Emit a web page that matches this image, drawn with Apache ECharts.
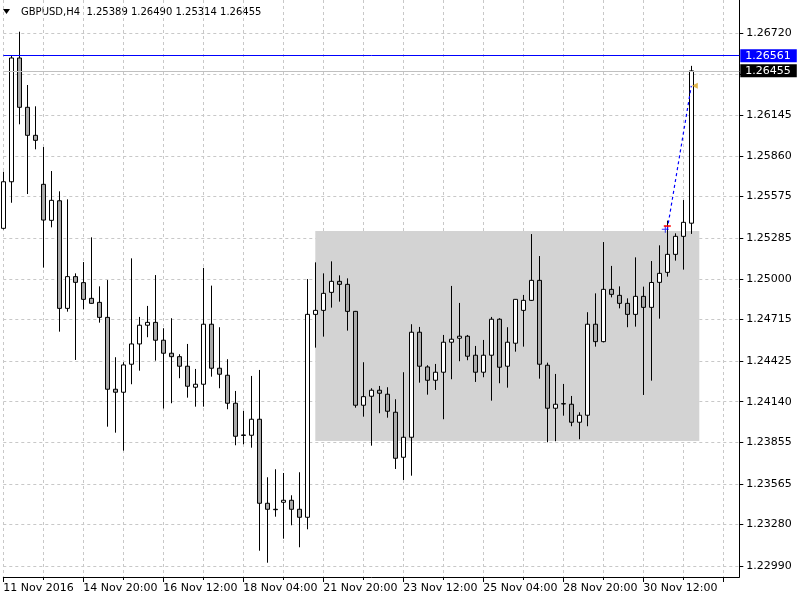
<!DOCTYPE html>
<html><head><meta charset="utf-8">
<script src="https://cdn.jsdelivr.net/npm/echarts@6/dist/echarts.min.js"></script>
<style>html,body{margin:0;padding:0;background:#fff}#c{width:800px;height:600px}</style>
</head><body><div id="c"></div>
<script>
const symbolName = 'GBPUSD,H4';
const opens = [1.25353,1.25679,1.26545,1.26200,1.26004,1.25661,1.25409,1.25546,1.24793,1.25015,
1.24973,1.24863,1.24835,1.24730,1.24227,1.24206,1.24402,1.24544,1.24675,1.24695,
1.24570,1.24479,1.24455,1.24388,1.24241,1.24262,1.24682,1.24374,1.24325,1.24129,
1.23907,1.23905,1.24017,1.23429,1.23387,1.23436,1.23450,1.23387,1.23331,1.24751,
1.24779,1.24905,1.24982,1.24961,1.24772,1.24115,1.24178,1.24220,1.24192,1.24066,
1.23751,1.23891,1.24626,1.24383,1.24290,1.24346,1.24556,1.24584,1.24598,1.24465,
1.24346,1.24465,1.24717,1.24388,1.24549,1.24779,1.24849,1.24989,1.24395,1.24094,
1.24126,1.24122,1.23996,1.24045,1.24682,1.24560,1.24926,1.24884,1.24828,1.24751,
1.24877,1.24800,1.24975,1.25045,1.25171,1.25297,1.25389];
const highs = [1.25749,1.26561,1.26729,1.26356,1.26207,1.25922,1.25754,1.25612,1.25556,1.25038,
1.25117,1.25290,1.24947,1.24991,1.24451,1.24416,1.25143,1.24733,1.24810,1.25026,
1.24654,1.24724,1.24472,1.24544,1.24369,1.25076,1.24952,1.24661,1.24437,1.24215,
1.24075,1.24320,1.24362,1.23611,1.23667,1.23641,1.23485,1.23646,1.24998,1.25115,
1.25038,1.25122,1.25024,1.25003,1.24775,1.24416,1.24234,1.24250,1.24241,1.24157,
1.24346,1.24682,1.24663,1.24395,1.24404,1.24607,1.24950,1.24831,1.24607,1.24530,
1.24572,1.24733,1.24724,1.24661,1.24858,1.24887,1.25313,1.25159,1.24413,1.24334,
1.24264,1.24180,1.24066,1.24766,1.24898,1.25257,1.25090,1.24947,1.24863,1.25150,
1.24945,1.25124,1.25234,1.25407,1.25318,1.25551,1.26490];
const lows = [1.25345,1.25532,1.26081,1.25593,1.25906,1.25078,1.25360,1.24630,1.24770,1.24432,
1.24786,1.24824,1.24693,1.23965,1.23923,1.23797,1.24262,1.24357,1.24591,1.24427,
1.24092,1.24129,1.24304,1.24168,1.24105,1.24105,1.24315,1.24234,1.24087,1.23835,
1.23842,1.23818,1.23097,1.23013,1.23335,1.23181,1.23275,1.23121,1.23247,1.24518,
1.24595,1.24798,1.24840,1.24637,1.24098,1.24035,1.23832,1.24059,1.24028,1.23669,
1.23592,1.23622,1.24273,1.24189,1.24222,1.24017,1.24297,1.24423,1.24430,1.24278,
1.24311,1.24147,1.24269,1.24238,1.24490,1.24525,1.24845,1.24301,1.23856,1.23863,
1.24042,1.23968,1.23877,1.23968,1.24525,1.24555,1.24870,1.24793,1.24661,1.24665,
1.24187,1.24287,1.24721,1.25015,1.25127,1.25064,1.25314];
const closes = [1.25679,1.26545,1.26200,1.26004,1.25969,1.25411,1.25549,1.24793,1.25015,1.24975,
1.24856,1.24828,1.24730,1.24227,1.24206,1.24397,1.24544,1.24675,1.24695,1.24570,
1.24479,1.24455,1.24388,1.24248,1.24262,1.24682,1.24374,1.24332,1.24129,1.23898,
1.23904,1.24017,1.23429,1.23387,1.23384,1.23450,1.23387,1.23331,1.24751,1.24779,
1.24898,1.24982,1.24961,1.24772,1.24115,1.24175,1.24220,1.24199,1.24073,1.23744,
1.23891,1.24626,1.24388,1.24290,1.24346,1.24556,1.24577,1.24598,1.24458,1.24346,
1.24465,1.24717,1.24381,1.24556,1.24856,1.24849,1.24989,1.24402,1.24094,1.24122,
1.24124,1.23996,1.24045,1.24682,1.24560,1.24926,1.24891,1.24828,1.24751,1.24877,
1.24800,1.24974,1.25038,1.25171,1.25297,1.25395,1.26455];
const xTickLabels = ['11 Nov 2016','14 Nov 20:00','16 Nov 12:00','18 Nov 04:00','21 Nov 20:00','23 Nov 12:00','25 Nov 04:00','28 Nov 20:00','30 Nov 12:00'];
const yTickValues = [1.26720,1.26430,1.26145,1.25860,1.25575,1.25285,1.25000,1.24715,1.24425,1.24140,1.23855,1.23565,1.23280,1.22990];
const yLabelValues = [1.26720,1.26145,1.25860,1.25575,1.25285,1.25000,1.24715,1.24425,1.24140,1.23855,1.23565,1.23280,1.22990];
const rectTop = 1.25334, rectBottom = 1.23865, rectFrom = 39, rectTo = 87;
const blueLinePrice = 1.26561, bidPrice = 1.26455;
const tradeOpen = [83, 1.25346], tradeClose = [86, 1.26350], stopMark = [83, 1.25369];
const totalSlots = 93;

const monthNames = ['Jan','Feb','Mar','Apr','May','Jun','Jul','Aug','Sep','Oct','Nov','Dec'];
const categories = [];
let t = Date.UTC(2016, 10, 11, 4);
while (categories.length < totalSlots) {
  const d = new Date(t);
  const wd = d.getUTCDay();
  if (wd !== 0 && wd !== 6) {
    categories.push(d.getUTCDate() + ' ' + monthNames[d.getUTCMonth()] + ' ' + String(d.getUTCHours()).padStart(2,'0') + ':00');
  }
  t += 4 * 3600e3;
}
const candles = opens.map((o, i) => [o, closes[i], lows[i], highs[i]]);
const last = opens.length - 1;
const titleText = symbolName + '  ' + [opens[last], highs[last], lows[last], closes[last]].map(v => v.toFixed(5)).join(' ');

const FONT = 'DejaVu Sans';
const gridColor = '#c8c8c8';
const priceLabel = (bg) => ({ position: 'end', distance: 1, formatter: p => Number(p.value).toFixed(5), color: '#fff',
  backgroundColor: bg, padding: [1, 6, 1, 5], fontSize: 11, fontFamily: FONT });
const chart = echarts.init(document.getElementById('c'));
chart.setOption({
  animation: false,
  backgroundColor: '#ffffff',
  grid: { left: 3.3, right: 60.7, top: 0, bottom: 23 },
  xAxis: [{
    type: 'category', data: categories, boundaryGap: false, position: 'bottom',
    axisLine: { show: true, lineStyle: { color: '#000', width: 1 } },
    axisTick: { show: true, interval: 9, length: 5, lineStyle: { color: '#000' } },
    axisLabel: { interval: 9, align: 'left', margin: 6, color: '#000', fontSize: 11, fontFamily: FONT,
      formatter: (v, i) => (i % 10 === 0 && xTickLabels[i / 10]) ? xTickLabels[i / 10] : '' },
    splitLine: { show: false }
  }, {
    type: 'category', data: categories, boundaryGap: false, position: 'bottom',
    axisLine: { show: false },
    axisTick: { show: true, interval: 4, length: 3, lineStyle: { color: '#000' } },
    axisLabel: { show: false },
    splitLine: { show: true, interval: 4, lineStyle: { color: gridColor, type: [3, 3], width: 1 } }
  }],
  yAxis: {
    type: 'value', position: 'right', min: 1.2291302, max: 1.2695094,
    axisLine: { show: true, lineStyle: { color: '#000', width: 1 } },
    axisTick: { show: true, customValues: yTickValues, length: 4, lineStyle: { color: '#000' } },
    axisLabel: { customValues: yLabelValues, margin: 7, color: '#000', fontSize: 11, fontFamily: FONT,
      formatter: v => Number(v).toFixed(5) },
    splitLine: { show: true, lineStyle: { color: gridColor, type: [3, 3], width: 1 } }
  },
  graphic: [
    { type: 'polygon', shape: { points: [[3, 9], [10, 9], [6.5, 14]] }, style: { fill: '#000' } },
    { type: 'text', left: 21, top: 7, style: { text: titleText, fill: '#000', font: '10px "DejaVu Sans"' } }
  ],
  series: [
    {
      type: 'line', data: [], z: 1, silent: true,
      markArea: { silent: true, itemStyle: { color: '#d3d3d3' },
        data: [[{ xAxis: rectFrom, yAxis: rectTop }, { xAxis: rectTo, yAxis: rectBottom }]] }
    },
    {
      type: 'line', data: [], z: 2, silent: true,
      markLine: {
        silent: true, symbol: ['none', 'none'], precision: 5, animation: false,
        data: [
          { yAxis: bidPrice, lineStyle: { color: '#c0c0c0', type: 'solid', width: 1 }, label: priceLabel('#000000') },
          { yAxis: blueLinePrice, lineStyle: { color: '#0000ff', type: 'solid', width: 1 }, label: priceLabel('#0000ff') }
        ]
      }
    },
    {
      type: 'candlestick', data: candles, z: 3, barWidth: 4,
      itemStyle: { color: '#ffffff', color0: '#a9a9a9', borderColor: '#000000', borderColor0: '#000000', borderWidth: 1 }
    },
    {
      type: 'line', data: [tradeOpen, tradeClose], z: 4, silent: true, symbol: 'none',
      lineStyle: { color: '#0000ff', width: 1.2, type: [3, 3] }
    },
    {
      type: 'scatter', data: [tradeOpen], z: 5, silent: true,
      symbol: 'path://M3,0h1v3h3v1h-3v3h-1v-3h-3v-1h3z', symbolSize: 7, symbolOffset: [-2, 0],
      itemStyle: { color: '#0000ff' }
    },
    {
      type: 'scatter', data: [stopMark], z: 5, silent: true,
      symbol: 'rect', symbolSize: [7, 2], itemStyle: { color: '#ff0000' }
    },
    {
      type: 'scatter', data: [tradeClose], z: 5, silent: true,
      symbol: 'triangle', symbolSize: [6, 6], symbolRotate: 90, symbolOffset: [3.5, 0],
      itemStyle: { color: '#daa520' }
    }
  ]
});
</script></body></html>
